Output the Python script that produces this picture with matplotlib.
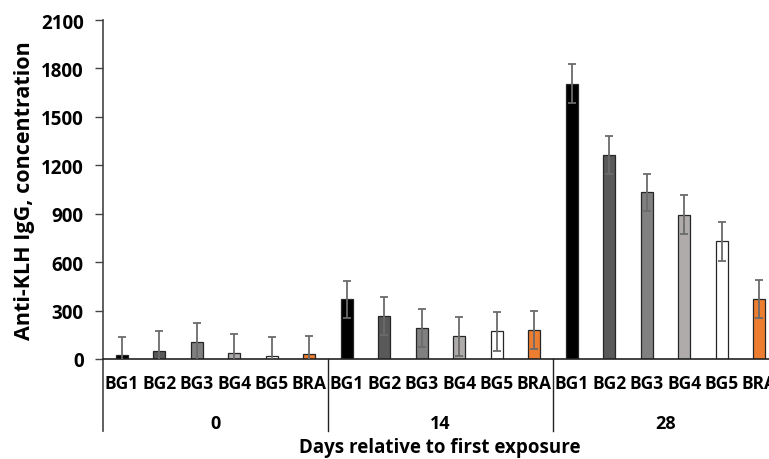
import numpy as np
import matplotlib
matplotlib.use("Agg")
import matplotlib.pyplot as plt
import matplotlib.transforms as mtransforms

groups = ["BG1", "BG2", "BG3", "BG4", "BG5", "BRA"]
days = ["0", "14", "28"]
day0 = [22, 52, 105, 35, 17, 29]
day14 = [369, 266, 190, 140, 171, 178]
day28 = [1706, 1265, 1032, 893, 728, 369]
err0 = [117, 121, 116, 120, 117, 112]
err14 = [112, 120, 117, 120, 119, 119]
err28 = [120, 117, 113, 120, 118, 118]

fill_colors = ["#000000", "#595959", "#808080", "#afabab", "#ffffff", "#ed7d31"]

plt.rcParams.update({"font.family": ["Open Sans", "DejaVu Sans"], "font.weight": "bold"})

fig = plt.figure(figsize=(7.69, 4.60), dpi=100)
ax = fig.add_axes([103 / 769, (460 - 360) / 460, 675 / 769, 339 / 460])

values = day0 + day14 + day28
errors = err0 + err14 + err28
x = np.arange(len(values))
colors = fill_colors * len(days)
ax.bar(x, values, width=0.33, color=colors, edgecolor="#262626", linewidth=0.9, zorder=2)
ax.errorbar(x, values, yerr=errors, fmt="none", ecolor="#6b6b6b", elinewidth=1.3,
            capsize=3, capthick=1.3, zorder=3)

ax.set_xlim(-0.5, len(values) - 0.5)
ax.set_ylim(0, 2100)
ax.set_yticks(np.arange(0, 2101, 300))
ax.set_yticklabels([str(v) for v in range(0, 2101, 300)], fontsize=13.5, fontweight="bold")
ax.tick_params(axis="y", length=6, width=1, color="#444444", pad=8)
ax.set_xticks(x)
ax.set_xticklabels(groups * len(days), fontsize=12.5, fontweight="bold")
ax.tick_params(axis="x", length=0, pad=11)

for s in ["top", "right", "left"]:
    ax.spines[s].set_visible(False)
ax.spines["bottom"].set_color("#222222")
ax.spines["bottom"].set_linewidth(1.2)

# y axis line extends down through the category labels
ax.plot([0, 0], [-0.212, 1], transform=ax.transAxes, color="#444444", lw=1.2, clip_on=False)
trans = mtransforms.blended_transform_factory(ax.transData, ax.transAxes)
for b in [5.5, 11.5]:
    ax.plot([b, b], [0, -0.212], transform=trans, color="#222222", lw=1.0, clip_on=False)
for i, d in enumerate(days):
    ax.text(i * 6 + 2.5, -0.188, d, transform=trans, ha="center", va="center",
            fontsize=13, fontweight="bold")

ax.set_ylabel("Anti-KLH IgG, concentration", fontsize=15.5, fontweight="bold", labelpad=4)
ax.text((440 - 103) / 675, -0.26, "Days relative to first exposure", transform=ax.transAxes,
        ha="center", va="center", fontsize=13.5, fontweight="bold")

fig.savefig("out.png", dpi=100)
